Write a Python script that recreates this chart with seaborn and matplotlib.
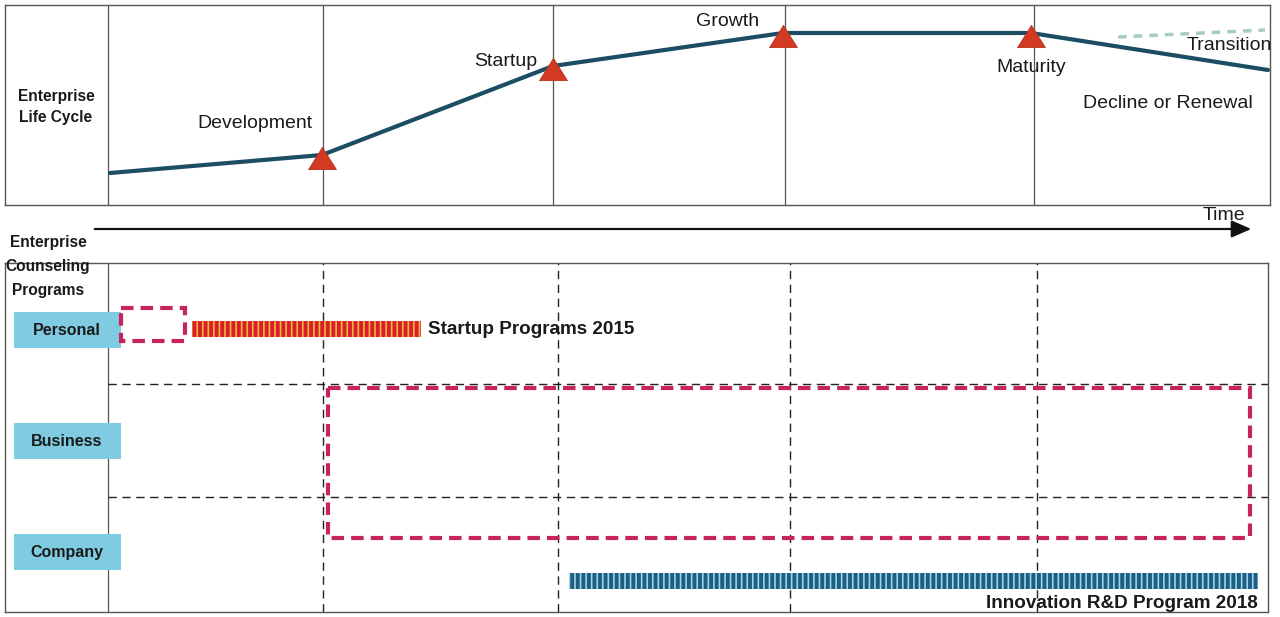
import matplotlib
matplotlib.use("Agg")
import matplotlib.pyplot as plt
from matplotlib.patches import Rectangle, FancyArrowPatch
import seaborn as sns

# ---- Enterprise life cycle (upper panel) ----
stage_x = [110, 322, 553, 783, 1031, 1268]
stage_level = [32, 50, 139, 172, 172, 135]
milestone_idx = [1, 2, 3, 4]
stage_dividers = [108, 323, 553, 785, 1034]
transition_x = [1118, 1265]
transition_level = [168, 175]
stage_labels = ["Development", "Startup", "Growth", "Maturity", "Decline or Renewal", "Transition"]
stage_label_x = [255, 506, 728, 1031, 1168, 1229]
stage_label_y = [81, 144, 183, 137, 101, 159]

# ---- Enterprise counseling programs (lower panel) ----
rows = ["Personal", "Business", "Company"]
row_center = [330, 441, 552]
row_dividers = [384, 497]
column_dividers = [323, 558, 790, 1037]
programs = ["Startup Programs 2015", "Innovation R&D Program 2018"]
program_start = [192, 569]
program_end = [421, 1258]
program_row = [329, 581]
coverage_x0 = [121, 328]
coverage_x1 = [185, 1250]
coverage_y0 = [308, 388]
coverage_y1 = [341, 538]

sns.set_theme(style="white")
plt.rcParams["font.family"] = ["Liberation Sans", "DejaVu Sans"]
plt.rcParams["hatch.linewidth"] = 1.2

W, H = 1280, 617
fig = plt.figure(figsize=(W / 100, H / 100), dpi=100)
fig.patch.set_facecolor("white")

frame_col = "#555555"
line_col = "#1b4d63"
tri_col = "#d23a22"
pink = "#c8245c"

# upper panel
ax = fig.add_axes([5 / W, 1 - 205 / H, 1265 / W, 200 / H])
ax.set_xlim(5, 1270)
ax.set_ylim(0, 200)
ax.set_xticks([])
ax.set_yticks([])
for s in ax.spines.values():
    s.set_color(frame_col)
    s.set_linewidth(1.0)
    s.set_visible(True)
for xv in stage_dividers:
    ax.axvline(xv, color=frame_col, lw=0.9, zorder=1)
sns.lineplot(x=stage_x, y=stage_level, ax=ax, color=line_col, lw=3.0,
             sort=False, zorder=3)
sns.lineplot(x=transition_x, y=transition_level, ax=ax, color="#a8cdb9",
             lw=2.5, linestyle=(0, (2.5, 2.0)), sort=False, zorder=2)
flat_triangle = [(-1, -0.8), (1, -0.8), (0, 0.8), (-1, -0.8)]
ax.scatter([stage_x[i] for i in milestone_idx],
           [stage_level[i] - 3 for i in milestone_idx],
           marker=flat_triangle, s=400, color=tri_col, edgecolors="#b8321c",
           linewidths=0.6, zorder=4)
for lab, lx, ly in zip(stage_labels, stage_label_x, stage_label_y):
    ax.text(lx, ly, lab, ha="center", va="center", fontsize=14, color="#1a1a1a")
ax.text(56, 98, "Enterprise\nLife Cycle", ha="center", va="center",
        fontsize=11.2, fontweight="bold", color="#1a1a1a", linespacing=1.45)

# time arrow
fig.add_artist(FancyArrowPatch(
    (92 / W, 1 - 229 / H), (1254 / W, 1 - 229 / H),
    transform=fig.transFigure, arrowstyle="-|>,head_length=8,head_width=3.5",
    mutation_scale=1.5, color="#111111", lw=1.6))
fig.text(1224 / W, 1 - 216 / H, "Time", ha="center", va="center",
         fontsize=14, color="#1a1a1a")

# lower panel
bx = fig.add_axes([5 / W, 1 - 612 / H, 1263 / W, 349 / H])
bx.set_xlim(5, 1268)
bx.set_ylim(612, 263)
bx.set_xticks([])
bx.set_yticks([])
for s in bx.spines.values():
    s.set_color(frame_col)
    s.set_linewidth(1.0)
    s.set_visible(True)
bx.axvline(108, color=frame_col, lw=0.9, zorder=1)
for xv in column_dividers:
    bx.axvline(xv, color="#222222", lw=1.0, linestyle=(0, (6, 4)), zorder=1)
for yv in row_dividers:
    bx.plot([108, 1268], [yv, yv], color="#222222", lw=1.0,
            linestyle=(0, (6, 4)), zorder=1)

# row labels
for name, yc in zip(rows, row_center):
    bx.add_patch(Rectangle((14, yc - 18), 107, 36, facecolor="#7ecbe2",
                           edgecolor="none", zorder=2))
    bx.text(67, yc, name, ha="center", va="center", fontsize=11.5,
            fontweight="bold", color="#1a1a1a", zorder=3)

# coverage boxes
for x0, x1, y0, y1 in zip(coverage_x0, coverage_x1, coverage_y0, coverage_y1):
    bx.add_patch(Rectangle((x0, y0), x1 - x0, y1 - y0, facecolor="none",
                           edgecolor=pink, lw=3.0,
                           linestyle=(0, (3.0, 1.7)), zorder=3))

# program bars
bar_face = ["#d81f2a", "#1a5f86"]
bar_stripe = ["#f0b83c", "#a6d0e4"]
for i in range(len(programs)):
    bx.barh(program_row[i], program_end[i] - program_start[i],
            left=program_start[i], height=16, color=bar_face[i],
            edgecolor=bar_stripe[i], linewidth=0, hatch="|||", zorder=4)
bx.text(428, program_row[0], programs[0], ha="left", va="center",
        fontsize=13.6, fontweight="bold", color="#1a1a1a")
bx.text(1258, 604, programs[1], ha="right", va="center",
        fontsize=13.6, fontweight="bold", color="#1a1a1a")

fig.text(48 / W, 1 - 266 / H, "Enterprise\nCounseling\nPrograms", ha="center",
         va="center", fontsize=11.2, fontweight="bold", color="#1a1a1a",
         linespacing=1.75)

fig.savefig("out.png", dpi=100)
